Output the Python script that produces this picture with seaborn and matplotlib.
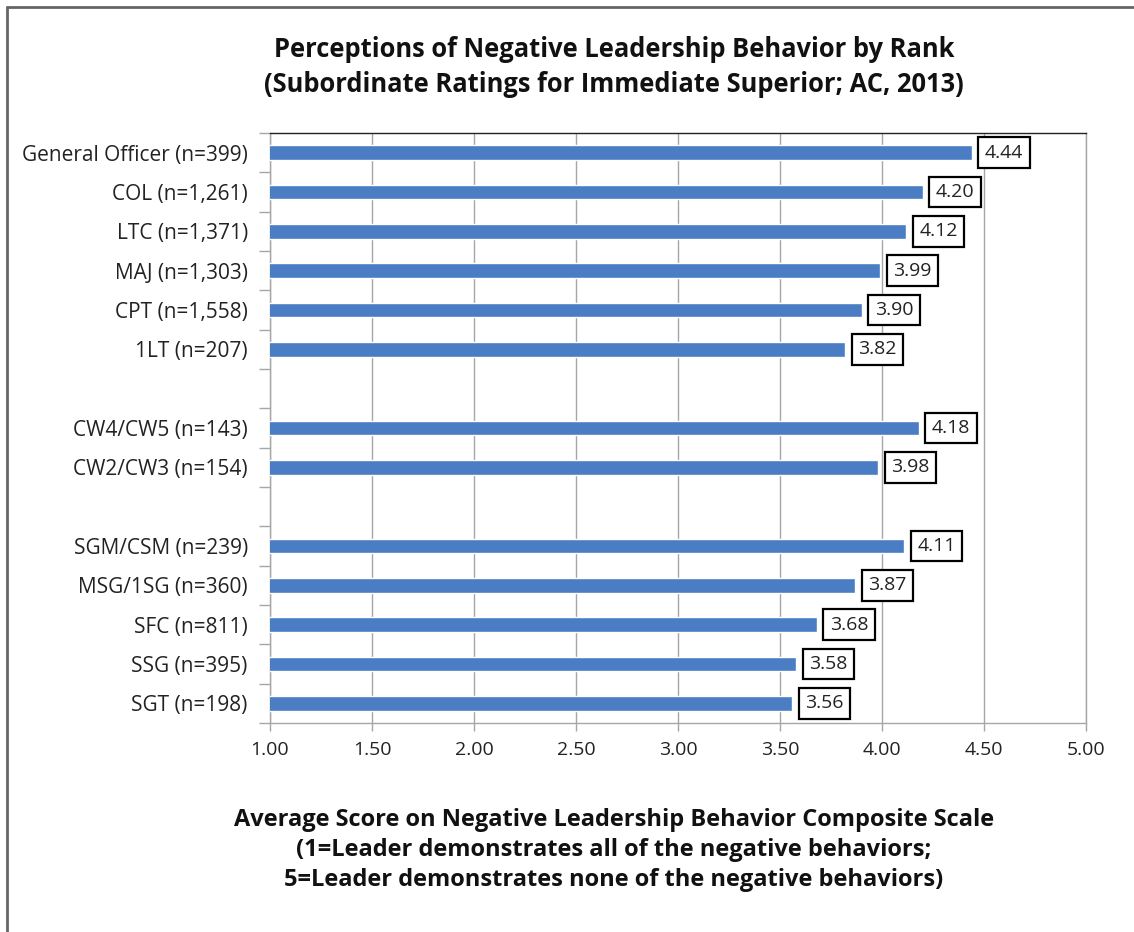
import matplotlib.pyplot as plt
import matplotlib.lines as mlines
import numpy as np
import pandas as pd
import seaborn as sns

# rank groups, blank rows separate officers / warrant officers / NCOs
ORDER = [
    "General Officer (n=399)",
    "COL (n=1,261)",
    "LTC (n=1,371)",
    "MAJ (n=1,303)",
    "CPT (n=1,558)",
    "1LT (n=207)",
    " ",
    "CW4/CW5 (n=143)",
    "CW2/CW3 (n=154)",
    "  ",
    "SGM/CSM (n=239)",
    "MSG/1SG (n=360)",
    "SFC (n=811)",
    "SSG (n=395)",
    "SGT (n=198)",
]
RANKS = [r for r in ORDER if r.strip()]
SCORES = [4.44, 4.20, 4.12, 3.99, 3.90, 3.82, 4.18, 3.98, 4.11, 3.87, 3.68, 3.58, 3.56]
X_TICKS = [1.0, 1.5, 2.0, 2.5, 3.0, 3.5, 4.0, 4.5, 5.0]

TITLE = ("Perceptions of Negative Leadership Behavior by Rank\n"
         "(Subordinate Ratings for Immediate Superior; AC, 2013)")
XLABEL = ("Average Score on Negative Leadership Behavior Composite Scale\n"
          "(1=Leader demonstrates all of the negative behaviors;\n"
          "5=Leader demonstrates none of the negative behaviors)")

BAR_COLOR = "#4A7DC4"
GRID_COLOR = "#A6A6A6"

sns.set_style("white")
plt.rcParams["font.family"] = ["Open Sans", "DejaVu Sans"]

df = pd.DataFrame({"rank": RANKS, "score": SCORES})

fig = plt.figure(figsize=(11.34, 9.32), dpi=100)
W, H = 1134, 932
ax = fig.add_axes([270 / W, 1 - 723 / H, (1086 - 270) / W, (723 - 133) / H])

sns.barplot(data=df, x="score", y="rank", order=ORDER, orient="h",
            color=BAR_COLOR, saturation=1, width=0.38, ax=ax, zorder=3)

ax.set_xlim(1, 5)
ax.set_ylim(len(ORDER) - 0.5, -0.5)
ax.set_xticks(X_TICKS)
ax.set_xticklabels([f"{t:.2f}" for t in X_TICKS], fontsize=14, color="#222222")
ax.xaxis.grid(True, color=GRID_COLOR, linewidth=1, zorder=0)
ax.set_axisbelow(True)

# category labels at centres, tick marks on the boundaries
ax.set_yticks(np.arange(len(ORDER)))
ax.set_yticklabels(ORDER, fontsize=15, color="#222222")
ax.tick_params(axis="y", length=0, pad=16)
ax.set_yticks(np.arange(-0.5, len(ORDER) + 0.5, 1), minor=True)
ax.tick_params(axis="y", which="minor", length=8, color=GRID_COLOR, width=1, left=True)
ax.tick_params(axis="x", length=6, color=GRID_COLOR, width=1, bottom=True, pad=7)

ax.set_xlabel("")
ax.set_ylabel("")
for side in ["left", "bottom", "right"]:
    ax.spines[side].set_color(GRID_COLOR)
    ax.spines[side].set_linewidth(1)
ax.spines["top"].set_color("#222222")
ax.spines["top"].set_linewidth(1)

# boxed value labels
pos = {r: i for i, r in enumerate(ORDER)}
for r, v in zip(RANKS, SCORES):
    ax.annotate(f"{v:.2f}", xy=(v, pos[r]), xytext=(13, 0), textcoords="offset pixels",
                ha="left", va="center", fontsize=14, color="#222222", zorder=5,
                bbox=dict(boxstyle="square,pad=0.33", facecolor="white",
                          edgecolor="black", linewidth=1.6))

fig.text(614 / W, 1 - 67 / H, TITLE, ha="center", va="center", fontsize=18.4,
         fontweight="bold", linespacing=1.35, color="#111111")
fig.text(614 / W, 1 - 850 / H, XLABEL, ha="center", va="center", fontsize=17,
         fontweight="bold", linespacing=1.35, color="#111111")

# outer frame (top and left edges visible in the original)
fig.add_artist(mlines.Line2D([7 / W, 1], [1 - 7 / H, 1 - 7 / H], color="#666666", linewidth=2))
fig.add_artist(mlines.Line2D([7 / W, 7 / W], [0, 1 - 7 / H], color="#666666", linewidth=2))

fig.savefig("out.png", dpi=100)
plt.close(fig)
